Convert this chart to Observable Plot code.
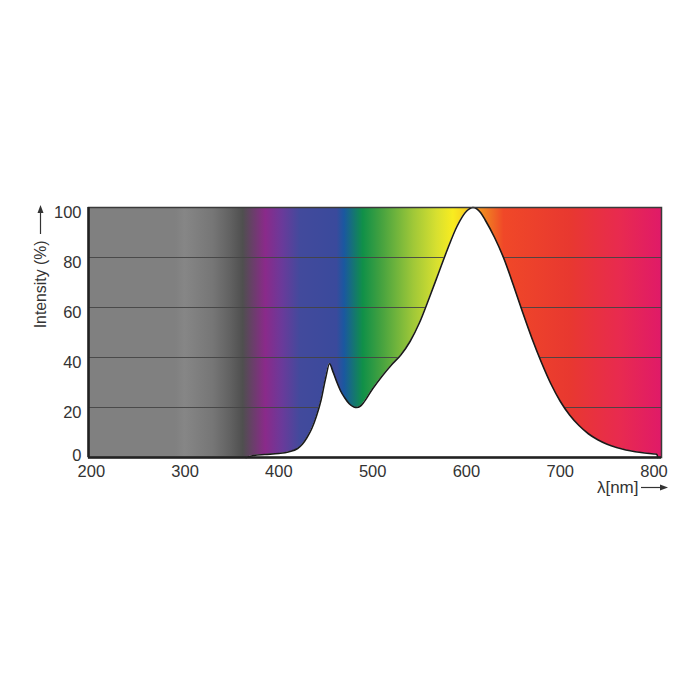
<!DOCTYPE html>
<html>
<head>
<meta charset="utf-8">
<script src="https://cdn.jsdelivr.net/npm/d3@7"></script>
<script src="https://cdn.jsdelivr.net/npm/@observablehq/plot@0.6"></script>
<style>
  html, body { margin: 0; padding: 0; background: #fff; }
  #chart svg { display: block; }
</style>
</head>
<body>
<div id="chart"></div>
<script>
// ---- Data ----
const wavelengths = [365, 373, 385, 400, 410, 420, 425, 430, 435, 440, 445, 450, 454, 458, 462, 466, 470, 475, 480, 483, 487, 490, 500, 510, 520, 530, 540, 550, 560, 570, 580, 590, 600, 607, 615, 620, 630, 640, 650, 660, 670, 680, 690, 700, 710, 720, 730, 740, 750, 760, 770, 780, 790, 800, 803, 804];
const intensity   = [0, 0.8, 1.2, 1.6, 2.2, 3.6, 5.3, 8, 11.5, 16.5, 23, 32, 37.5, 34, 30, 26.5, 24, 21.5, 20.2, 20, 20.6, 21.8, 27.5, 32.5, 37, 41, 46.5, 54, 63.5, 73.5, 83.5, 92.5, 98.5, 100, 98, 95, 88, 79.5, 69, 58, 47.5, 38, 29.5, 22.5, 17, 12.8, 9.5, 7.1, 5.3, 4, 3, 2.3, 1.8, 1.4, 1.3, 0];
const xTicks = [200, 300, 400, 500, 600, 700, 800];
const yTicks = [0, 20, 40, 60, 80, 100];
const spectrumNm     = [197, 290, 300, 330, 348, 362, 386, 404, 423, 462, 470, 490, 508, 544, 569, 586, 600, 615, 640, 711, 765, 808];
const spectrumColors = ["#808080", "#808080", "#868686", "#767676", "#626262", "#4f4f4f", "#8a2a8a", "#6a3a9a", "#424a9c", "#3a4a9c", "#1a58a0", "#109048", "#40a040", "#a0c838", "#d8e030", "#f8ec20", "#f8d020", "#f09020", "#f04828", "#e83830", "#e82a50", "#e01a68"];

const data = wavelengths.map((w, i) => ({w, v: intensity[i]}));
const FONT = "'Liberation Sans', Arial, Helvetica, sans-serif";
const NS = "http://www.w3.org/2000/svg";

function el(doc, name, attrs) {
  const e = doc.createElementNS(NS, name);
  for (const k in attrs) e.setAttribute(k, attrs[k]);
  return e;
}

// background spectrum gradient filling the plot frame
function spectrumBackground(index, scales, values, dims, context) {
  const doc = (context && context.document) || document;
  const g = el(doc, "g", {});
  const defs = el(doc, "defs", {});
  const x1 = scales.x(spectrumNm[0]);
  const x2 = scales.x(spectrumNm[spectrumNm.length - 1]);
  const lg = el(doc, "linearGradient", {id: "spectrum", gradientUnits: "userSpaceOnUse", x1, x2, y1: 0, y2: 0});
  spectrumNm.forEach((nm, i) => {
    lg.appendChild(el(doc, "stop", {offset: (scales.x(nm) - x1) / (x2 - x1), "stop-color": spectrumColors[i]}));
  });
  defs.appendChild(lg);
  g.appendChild(defs);
  g.appendChild(el(doc, "rect", {
    x: dims.marginLeft, y: dims.marginTop,
    width: dims.width - dims.marginLeft - dims.marginRight,
    height: dims.height - dims.marginTop - dims.marginBottom,
    fill: "url(#spectrum)"
  }));
  return g;
}

// axis-title arrows
function axisArrows(index, scales, values, dims, context) {
  const doc = (context && context.document) || document;
  const g = el(doc, "g", {stroke: "#333", fill: "#333"});
  const left = dims.marginLeft, top = dims.marginTop;
  const right = dims.width - dims.marginRight, bottom = dims.height - dims.marginBottom;
  // vertical arrow (y title)
  const ax = left - 47.5;
  g.appendChild(el(doc, "line", {x1: ax, x2: ax, y1: top + 27, y2: top + 3, "stroke-width": 1.2}));
  g.appendChild(el(doc, "path", {d: `M${ax},${top - 2}L${ax - 3},${top + 6}L${ax + 3},${top + 6}Z`, stroke: "none"}));
  // horizontal arrow (x title)
  const ay = bottom + 30.5;
  g.appendChild(el(doc, "line", {x1: right - 20, x2: right + 3, y1: ay, y2: ay, "stroke-width": 1.2}));
  g.appendChild(el(doc, "path", {d: `M${right + 7},${ay}L${right - 1},${ay - 3}L${right - 1},${ay + 3}Z`, stroke: "none"}));
  return g;
}

const chart = Plot.plot({
  width: 700,
  height: 700,
  marginLeft: 88,
  marginRight: 39,
  marginTop: 207,
  marginBottom: 243,
  style: {fontFamily: FONT, color: "#333", background: "#fff"},
  x: {domain: [197, 808]},
  y: {domain: [0, 100]},
  marks: [
    spectrumBackground,
    Plot.gridY(yTicks.filter(t => t > 0 && t < 100), {stroke: "#444", strokeOpacity: 0.9, strokeWidth: 1}),
    Plot.areaY(data, {x: "w", y: "v", fill: "#fff", curve: "monotone-x"}),
    Plot.lineY(data, {x: "w", y: "v", stroke: "#1a1a1a", strokeWidth: 1.6, curve: "monotone-x"}),
    Plot.frame({stroke: "#3a3a3a", strokeWidth: 1.5}),
    Plot.ruleY([0], {stroke: "#222", strokeWidth: 2.5}),
    Plot.ruleX([197], {stroke: "#222", strokeWidth: 2.5}),
    Plot.axisX(xTicks, {tickSize: 0, tickPadding: 8, fontSize: 16.5, label: null, fill: "#333"}),
    Plot.axisY(yTicks.filter(t => t > 0), {tickSize: 0, tickPadding: 7, fontSize: 16.5, dy: 5, label: null, fill: "#333"}),
    Plot.axisY([0], {tickSize: 0, tickPadding: 7, fontSize: 16.5, dy: -2, label: null, fill: "#333"}),
    Plot.text(["Intensity (%)"], {frameAnchor: "top-left", dx: -47.5, dy: 33, rotate: -90, textAnchor: "end", lineAnchor: "middle", fontSize: 15.8, fill: "#333"}),
    Plot.text(["λ[nm]"], {frameAnchor: "bottom-right", dx: -23, dy: 30.5, textAnchor: "end", lineAnchor: "middle", fontSize: 17, fill: "#333"}),
    axisArrows
  ]
});
document.getElementById("chart").appendChild(chart);
</script>
</body>
</html>
